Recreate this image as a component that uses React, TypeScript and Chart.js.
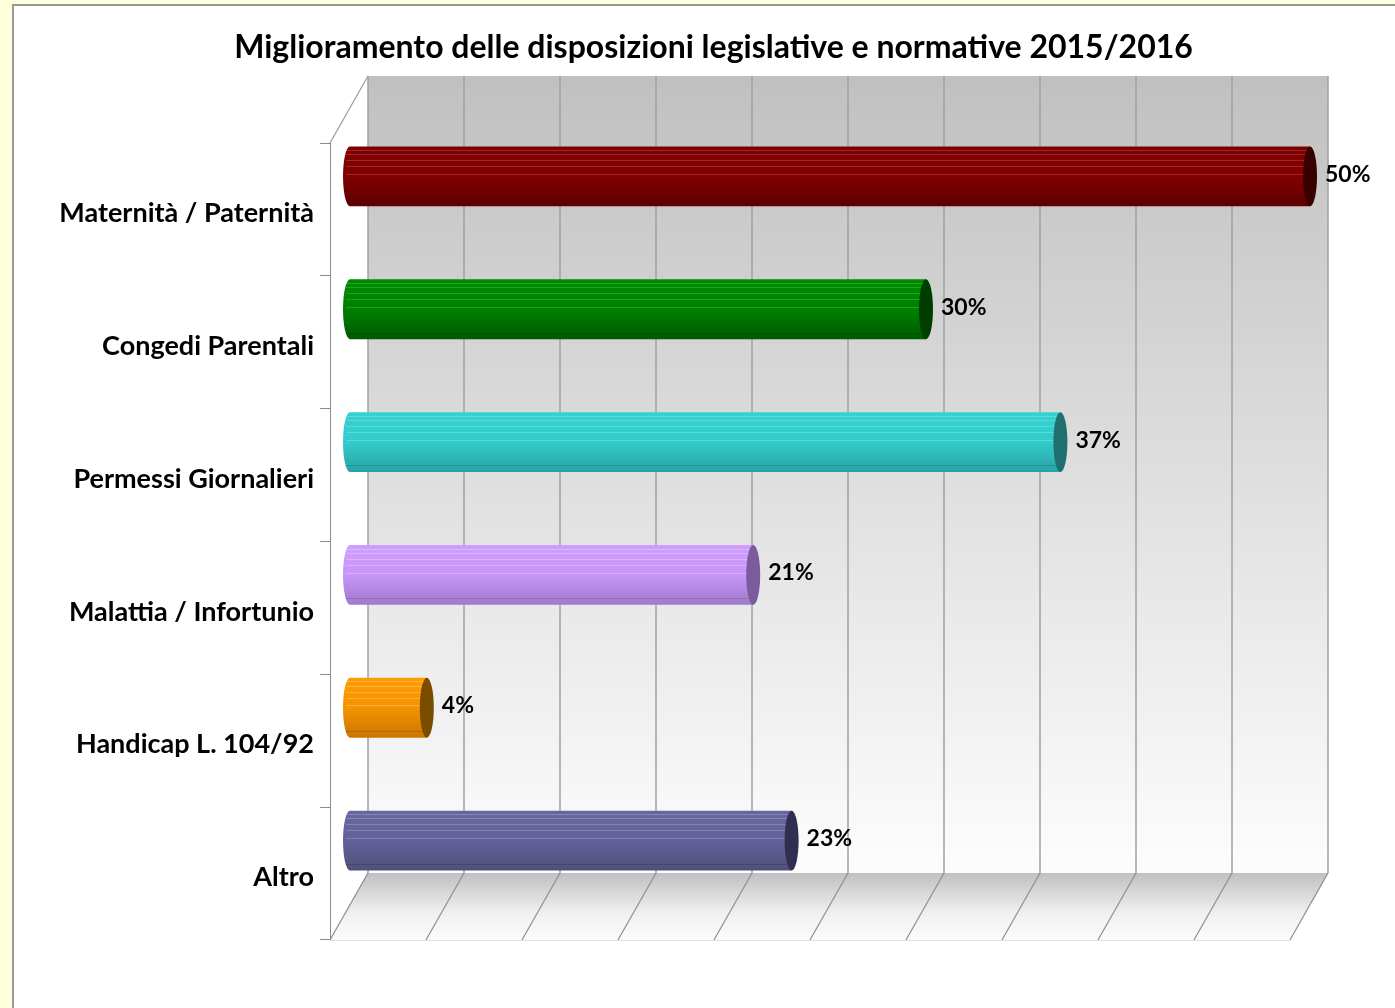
import { useEffect, useRef } from "react";
import { Chart, registerables } from "chart.js";

Chart.register(...registerables);

const titleText = "Miglioramento delle disposizioni legislative e normative 2015/2016";
const categories = [
  "Maternità / Paternità",
  "Congedi Parentali",
  "Permessi Giornalieri",
  "Malattia / Infortunio",
  "Handicap L. 104/92",
  "Altro",
];
const percentages = [50, 30, 37, 21, 4, 23];
const gridValues = [0, 5, 10, 15, 20, 25, 30, 35, 40, 45, 50];

const barTopColors = ["#7c0000", "#008a00", "#36d0d0", "#cf9dff", "#ff9c05", "#68689c"];
const barMidColors = ["#800000", "#008000", "#33cccc", "#c896f8", "#f59300", "#62629a"];
const barBottomColors = ["#5e0000", "#005a00", "#29a3a3", "#a07acb", "#c97600", "#50507a"];
const capColors = ["#3a0000", "#003d00", "#1f6f6f", "#7a5c9c", "#7a4c00", "#2f2f4f"];
const stripeColors = [
  "rgba(255,120,120,0.30)",
  "rgba(120,255,120,0.25)",
  "rgba(200,255,255,0.25)",
  "rgba(255,240,255,0.30)",
  "rgba(255,230,170,0.35)",
  "rgba(200,200,255,0.30)",
];

const FONT = 'Lato, "Open Sans", sans-serif';
const WALL_DX = 38;
const WALL_DY = -67;
const BAR_DX = 20;
const BAR_DY = -33;
const CAP_RX = 7;
const STRIPES = [0.06, 0.13, 0.23, 0.33, 0.46];

function barGradient(ctx: CanvasRenderingContext2D, top: number, bottom: number, i: number) {
  if (!isFinite(top) || !isFinite(bottom) || top === bottom) return barMidColors[i];
  const g = ctx.createLinearGradient(0, top, 0, bottom);
  g.addColorStop(0, barTopColors[i]);
  g.addColorStop(0.5, barMidColors[i]);
  g.addColorStop(1, barBottomColors[i]);
  return g;
}

const scenePlugin = {
  id: "scene3d",
  beforeDraw(chart: any) {
    const ctx: CanvasRenderingContext2D = chart.ctx;
    const w = chart.width;
    const h = chart.height;
    ctx.save();
    ctx.fillStyle = "#ffffdd";
    ctx.fillRect(0, 0, w, h);
    ctx.fillStyle = "#ffffff";
    ctx.fillRect(14, 6, w - 14, h - 6);
    ctx.fillStyle = "#9a9a94";
    ctx.fillRect(12, 4, 2, h - 4);
    ctx.fillRect(12, 4, w - 12, 2);
    // title
    ctx.fillStyle = "#000";
    ctx.font = `bold 32px ${FONT}`;
    ctx.textAlign = "center";
    ctx.textBaseline = "middle";
    ctx.fillText(titleText, 713.5, 48);
    ctx.restore();
  },
  beforeDatasetsDraw(chart: any) {
    const ctx: CanvasRenderingContext2D = chart.ctx;
    const { left, right, top, bottom } = chart.chartArea;
    const xs = chart.scales.x;
    ctx.save();
    // back wall
    const bw = ctx.createLinearGradient(0, top + WALL_DY, 0, bottom + WALL_DY);
    bw.addColorStop(0, "#c0c0c0");
    bw.addColorStop(1, "#fdfdfd");
    ctx.fillStyle = bw;
    ctx.fillRect(left + WALL_DX, top + WALL_DY, right - left, bottom - top);
    // floor
    const fl = ctx.createLinearGradient(0, bottom + WALL_DY, 0, bottom);
    fl.addColorStop(0, "#c0c0c0");
    fl.addColorStop(0.6, "#f0f0f0");
    fl.addColorStop(1, "#fcfcfc");
    ctx.fillStyle = fl;
    ctx.beginPath();
    ctx.moveTo(left, bottom);
    ctx.lineTo(left + WALL_DX, bottom + WALL_DY);
    ctx.lineTo(right + WALL_DX, bottom + WALL_DY);
    ctx.lineTo(right, bottom);
    ctx.closePath();
    ctx.fill();
    // floor front edge
    ctx.strokeStyle = "#e2e2e2";
    ctx.lineWidth = 1;
    ctx.beginPath();
    ctx.moveTo(left, bottom + 0.5);
    ctx.lineTo(right, bottom + 0.5);
    ctx.stroke();
    // grid lines
    ctx.strokeStyle = "#a0a0a0";
    ctx.lineWidth = 1.5;
    gridValues.forEach((v) => {
      const px = xs.getPixelForValue(v);
      ctx.beginPath();
      ctx.moveTo(px + WALL_DX, top + WALL_DY);
      ctx.lineTo(px + WALL_DX, bottom + WALL_DY);
      ctx.stroke();
    });
    ctx.strokeStyle = "#8c8c8c";
    ctx.lineWidth = 1.2;
    gridValues.forEach((v) => {
      const px = xs.getPixelForValue(v);
      ctx.beginPath();
      ctx.moveTo(px, bottom);
      ctx.lineTo(px + WALL_DX, bottom + WALL_DY);
      ctx.stroke();
    });
    // left wall top edge
    ctx.strokeStyle = "#9a9a9a";
    ctx.beginPath();
    ctx.moveTo(left, top);
    ctx.lineTo(left + WALL_DX, top + WALL_DY);
    ctx.stroke();
    ctx.restore();

    ctx.save();
    ctx.translate(BAR_DX, BAR_DY);
  },
  afterDatasetsDraw(chart: any) {
    const ctx: CanvasRenderingContext2D = chart.ctx;
    const meta = chart.getDatasetMeta(0);
    meta.data.forEach((bar: any, i: number) => {
      const { x, y, base, height } = bar.getProps(["x", "y", "base", "height"], true);
      const t = y - height / 2;
      const b = y + height / 2;
      // left rounded end
      ctx.fillStyle = barGradient(ctx, t, b, i);
      ctx.beginPath();
      ctx.ellipse(base, y, CAP_RX, height / 2, 0, Math.PI / 2, (3 * Math.PI) / 2);
      ctx.closePath();
      ctx.fill();
      // stripes
      ctx.strokeStyle = stripeColors[i];
      ctx.lineWidth = 1;
      STRIPES.forEach((f) => {
        const sy = Math.round(t + f * height) + 0.5;
        ctx.beginPath();
        ctx.moveTo(base - 4, sy);
        ctx.lineTo(x, sy);
        ctx.stroke();
      });
      ctx.strokeStyle = "rgba(0,0,0,0.15)";
      ctx.beginPath();
      ctx.moveTo(base - 4, Math.round(t + 0.89 * height) + 0.5);
      ctx.lineTo(x, Math.round(t + 0.89 * height) + 0.5);
      ctx.stroke();
      // right cap
      ctx.fillStyle = capColors[i];
      ctx.beginPath();
      ctx.ellipse(x, y, CAP_RX, height / 2, 0, 0, Math.PI * 2);
      ctx.fill();
      // value label
      ctx.fillStyle = "#000";
      ctx.font = `bold 23px ${FONT}`;
      ctx.textAlign = "left";
      ctx.textBaseline = "middle";
      ctx.fillText(`${percentages[i]}%`, x + CAP_RX + 8, y - 2);
    });
    ctx.restore();
  },
};

export default function App() {
  const ref = useRef<HTMLCanvasElement | null>(null);
  useEffect(() => {
    if (!ref.current) return;
    const chart = new Chart(ref.current, {
      type: "bar",
      data: {
        labels: categories,
        datasets: [
          {
            data: percentages,
            clip: false,
            categoryPercentage: 0.9,
            barPercentage: 0.5,
            borderWidth: 0,
            backgroundColor: (c: any) => {
              const ch = c.chart;
              const ys = ch.scales && ch.scales.y;
              const i = c.dataIndex;
              if (!ys || i === undefined) return barMidColors[0];
              const cy = ys.getPixelForValue(i);
              const half = ((ys.height / categories.length) * 0.45) / 2;
              return barGradient(ch.ctx, cy - half, cy + half, i);
            },
          } as any,
        ],
      },
      options: {
        indexAxis: "y",
        responsive: false,
        animation: false,
        layout: { padding: { left: 0, right: 105, top: 143, bottom: 68 } },
        scales: {
          x: { type: "linear", min: 0, max: 50, display: false, ticks: { stepSize: 5 } },
          y: {
            type: "category",
            position: "left",
            grid: { drawOnChartArea: false, tickLength: 10, color: "#8c8c8c", offset: true },
            border: { display: true, color: "#8c8c8c", width: 1 },
            ticks: {
              font: { family: FONT, weight: "bold", size: 27 },
              color: "#000",
              padding: 6,
              labelOffset: 4,
            },
            afterFit: (s: any) => {
              s.width = 330;
            },
          },
        },
        plugins: {
          legend: { display: false },
          tooltip: { enabled: false },
          title: { display: false },
        },
      } as any,
      plugins: [scenePlugin],
    });
    return () => chart.destroy();
  }, []);
  return (
    <div style={{ position: "absolute", left: 0, top: 0, width: 1395, height: 1008 }}>
      <canvas ref={ref} width={1395} height={1008} style={{ display: "block" }} />
    </div>
  );
}
